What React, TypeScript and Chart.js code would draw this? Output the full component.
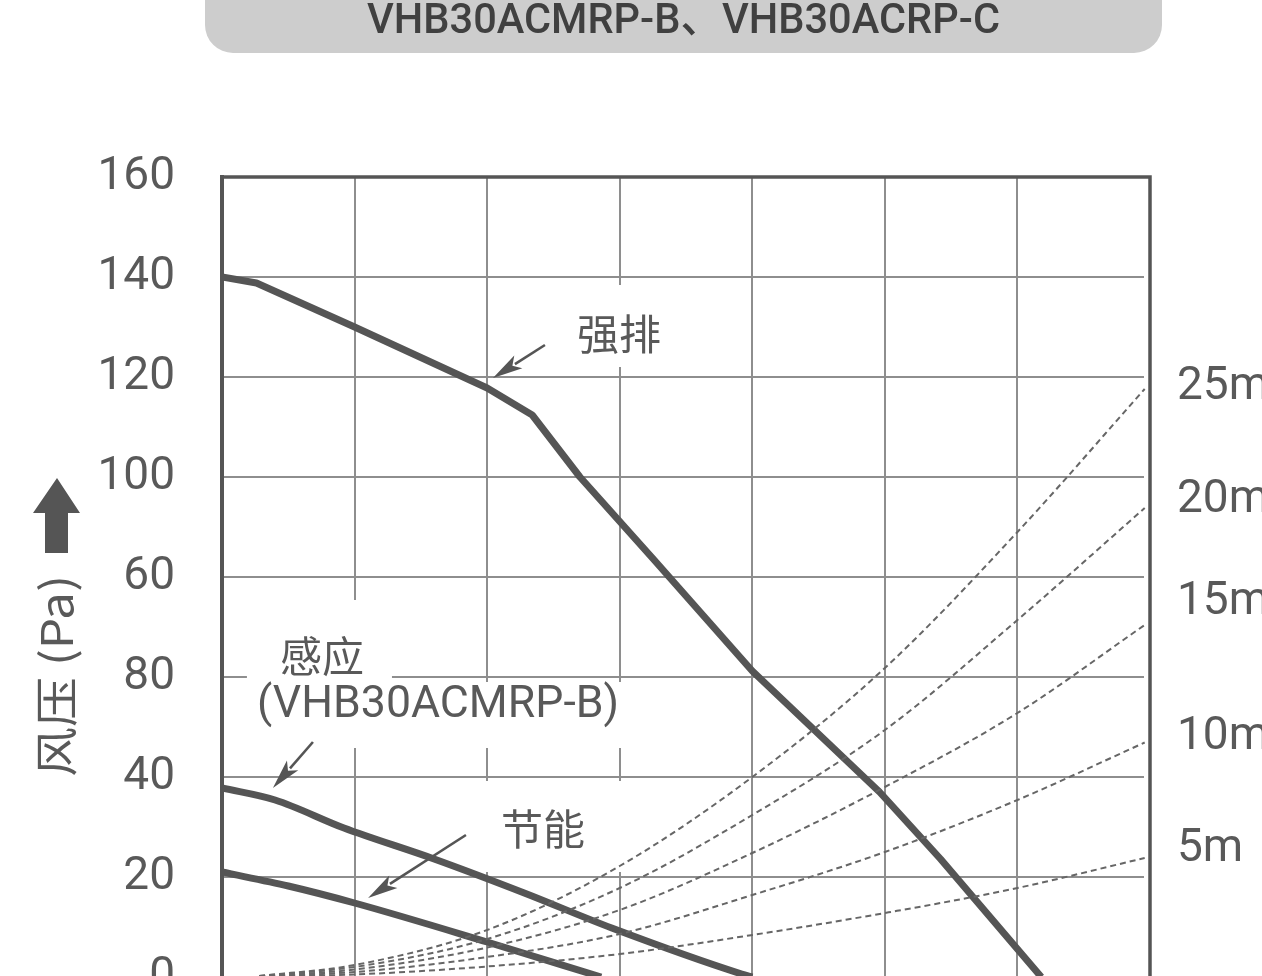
import React, { useEffect, useRef } from "react";
import { Chart, registerables } from "chart.js";

Chart.register(...registerables);

// ---------- data ----------
const chartTitle = "VHB30ACMRP-B、VHB30ACRP-C";
const yAxisTitle = "风压 (Pa)";
// tick labels as printed on the original, in value order 0..160
const yTickLabels = ["0", "20", "40", "80", "60", "100", "120", "140", "160"];

const strongLabel = "强排";
const strongX = [0, 13, 50, 100, 117, 135, 163, 200, 248, 271, 309];
const strongY = [140, 138.8, 130, 117.8, 112.4, 100, 83.4, 61.2, 37, 23.6, 0];

const sensorLabel = "感应";
const sensorModel = "(VHB30ACMRP-B)";
const sensorX = [0, 20, 46, 80, 114, 147, 196, 200];
const sensorY = [37.8, 35.4, 29.8, 23.6, 16.8, 9.8, 0.6, 0];

const ecoLabel = "节能";
const ecoX = [0, 25, 50, 100, 143];
const ecoY = [21, 18.2, 14.8, 7, 0];

const ductX = [14, 50, 100, 150, 200, 250, 300, 348];
const duct25 = [0.2, 2.4, 9.4, 22.2, 40, 61.8, 89, 117.6];
const duct20 = [0.2, 2.0, 7.6, 17.8, 32.4, 49.4, 71.4, 93.8];
const duct15 = [0.1, 1.5, 5.9, 13.4, 24.8, 38, 52.8, 70.4];
const duct10 = [0.1, 1.0, 4.0, 8.6, 16.4, 25, 35.4, 46.9];
const duct5 = [0.05, 0.5, 2.1, 4.6, 8.4, 12.8, 17.8, 23.8];
const ductLabels = ["25m", "20m", "15m", "10m", "5m"];

// ---------- styling ----------
const INK = "#555555";
const TEXT = "#595959";
const GRID = "#8e8e8e";
const LATIN = 'Roboto, "Noto Sans CJK SC", sans-serif';
const CJK = '"Noto Sans CJK SC", Roboto, sans-serif';

const CANVAS_H = 1057;

const pts = (xs: number[], ys: number[]) => xs.map((x, i) => ({ x, y: ys[i] }));

function fitText(ctx: CanvasRenderingContext2D, text: string, x: number, y: number, targetW: number) {
  const w = ctx.measureText(text).width;
  const s = w > 0 ? targetW / w : 1;
  ctx.save();
  ctx.translate(x, y);
  ctx.scale(s, 1);
  ctx.fillText(text, 0, 0);
  ctx.restore();
}

function arrow(ctx: CanvasRenderingContext2D, x1: number, y1: number, x2: number, y2: number) {
  const ang = Math.atan2(y2 - y1, x2 - x1);
  const headLen = 30;
  const headW = 7.5;
  const bx = x2 - Math.cos(ang) * headLen;
  const by = y2 - Math.sin(ang) * headLen;
  ctx.strokeStyle = INK;
  ctx.lineWidth = 2.6;
  ctx.beginPath();
  ctx.moveTo(x1, y1);
  ctx.lineTo(bx + Math.cos(ang) * 4, by + Math.sin(ang) * 4);
  ctx.stroke();
  ctx.fillStyle = INK;
  ctx.beginPath();
  ctx.moveTo(x2, y2);
  ctx.lineTo(bx - Math.sin(ang) * headW, by + Math.cos(ang) * headW);
  ctx.lineTo(bx + Math.cos(ang) * 7, by + Math.sin(ang) * 7);
  ctx.lineTo(bx + Math.sin(ang) * headW, by - Math.cos(ang) * headW);
  ctx.closePath();
  ctx.fill();
}

const overlay = {
  id: "overlay",
  beforeDatasetsDraw(chart: any) {
    const { ctx, chartArea: ca, scales } = chart;
    const X = (v: number) => scales.x.getPixelForValue(v);
    const Y = (v: number) => scales.y.getPixelForValue(v);
    ctx.save();
    // white label backgrounds that interrupt the grid
    ctx.fillStyle = "#ffffff";
    const boxes: number[][] = [
      [123.7, 138.4, 180.3, 122],
      [9.4, 75.4, 64.1, 58.4],
      [8.7, 59, 155.8, 45.8],
      [95.4, 39.2, 157.7, 21],
    ];
    boxes.forEach(([x0, y0, x1, y1]) => {
      ctx.fillRect(X(x0), Y(y0), X(x1) - X(x0), Y(y1) - Y(y0));
    });
    // horizontal grid stops just short of the right frame
    ctx.fillRect(ca.right - 6, ca.top + 3, 5, ca.bottom - ca.top);
    // frame top & right
    ctx.strokeStyle = INK;
    ctx.lineWidth = 3.5;
    ctx.beginPath();
    ctx.moveTo(ca.left, ca.top);
    ctx.lineTo(ca.right, ca.top);
    ctx.lineTo(ca.right, ca.bottom + 10);
    ctx.stroke();

    // curve labels
    ctx.fillStyle = TEXT;
    ctx.textAlign = "center";
    ctx.textBaseline = "middle";
    ctx.font = `42px ${CJK}`;
    ctx.fillText(strongLabel, X(149.7), Y(128.6));
    ctx.fillText(sensorLabel, X(37.7), Y(64.2));
    ctx.fillText(ecoLabel, X(121.1), Y(29.6));
    ctx.font = `44px ${LATIN}`;
    fitText(ctx, sensorModel, X(81.5), Y(54.2), 362);

    // arrows
    arrow(ctx, X(121.8), Y(126.4), X(102.2), Y(119.8));
    arrow(ctx, X(34.3), Y(47), X(19.2), Y(37.8));
    arrow(ctx, X(92), Y(28.4), X(55.1), Y(15.8));
    ctx.restore();
  },
  afterDraw(chart: any) {
    const { ctx, chartArea: ca, scales } = chart;
    const Y = (v: number) => scales.y.getPixelForValue(v);
    ctx.save();
    // title banner
    ctx.fillStyle = "#cdcdcd";
    ctx.beginPath();
    (ctx as any).roundRect(205, -40, 957, 93, 28);
    ctx.fill();
    ctx.fillStyle = "#404040";
    ctx.textAlign = "center";
    ctx.textBaseline = "middle";
    ctx.font = `500 43px ${LATIN}`;
    fitText(ctx, chartTitle, 683.5, 22, 633);

    // duct length labels on the right
    ctx.fillStyle = TEXT;
    ctx.textAlign = "left";
    ctx.font = `46px ${LATIN}`;
    const labelPos = [118, 95.4, 75, 48, 25.6];
    ductLabels.forEach((t, i) => ctx.fillText(t, ca.right + 27, Y(labelPos[i])));

    // y-axis title with up arrow
    ctx.save();
    ctx.translate(56, 676);
    ctx.rotate(-Math.PI / 2);
    ctx.textAlign = "center";
    ctx.font = `44px ${CJK}`;
    fitText(ctx, yAxisTitle, 0, 0, 202);
    ctx.restore();
    ctx.fillStyle = INK;
    ctx.beginPath();
    ctx.moveTo(57, 478);
    ctx.lineTo(80, 513);
    ctx.lineTo(68, 513);
    ctx.lineTo(68, 553);
    ctx.lineTo(45, 553);
    ctx.lineTo(45, 513);
    ctx.lineTo(33, 513);
    ctx.closePath();
    ctx.fill();
    ctx.restore();
  },
};

export default function App() {
  const ref = useRef<HTMLCanvasElement>(null);
  useEffect(() => {
    const thick = (data: any[]) => ({
      data,
      borderColor: INK,
      borderWidth: 7,
      pointRadius: 0,
      tension: 0,
      fill: false,
      borderJoinStyle: "round" as const,
    });
    const dashed = (data: any[]) => ({
      data,
      borderColor: "#666666",
      borderWidth: 2,
      borderDash: [6, 4],
      pointRadius: 0,
      cubicInterpolationMode: "monotone" as const,
      fill: false,
    });
    const chart = new Chart(ref.current!, {
      type: "line",
      data: {
        datasets: [
          dashed(pts(ductX, duct25)),
          dashed(pts(ductX, duct20)),
          dashed(pts(ductX, duct15)),
          dashed(pts(ductX, duct10)),
          dashed(pts(ductX, duct5)),
          thick(pts(strongX, strongY)),
          { ...thick(pts(sensorX, sensorY)), cubicInterpolationMode: "monotone" },
          { ...thick(pts(ecoX, ecoY)), cubicInterpolationMode: "monotone" },
        ],
      },
      options: {
        animation: false,
        responsive: false,
        devicePixelRatio: 1,
        layout: { padding: { top: 177, right: 112, left: 0, bottom: 0 } },
        plugins: { legend: { display: false }, tooltip: { enabled: false }, title: { display: false } },
        scales: {
          x: {
            type: "linear",
            min: 0,
            max: 350,
            ticks: { display: false, stepSize: 50 },
            grid: { color: GRID, lineWidth: 2, drawTicks: false },
            border: { display: false },
            afterFit: (s: any) => {
              s.height = CANVAS_H - 977;
            },
          },
          y: {
            min: 0,
            max: 160,
            ticks: {
              stepSize: 20,
              padding: 47,
              color: TEXT,
              font: { family: LATIN, size: 46 },
              callback: (v: any) => yTickLabels[Math.round(Number(v) / 20)],
            },
            grid: { color: GRID, lineWidth: 2, drawTicks: false },
            border: { display: true, color: INK, width: 4 },
            afterFit: (s: any) => {
              s.width = 222;
            },
          },
        },
      },
      plugins: [overlay],
    } as any);
    return () => chart.destroy();
  }, []);
  return (
    <div
      style={{
        position: "fixed",
        left: 0,
        top: 0,
        width: 1262,
        height: 976,
        overflow: "hidden",
        background: "#ffffff",
      }}
    >
      <canvas ref={ref} width={1262} height={CANVAS_H} style={{ display: "block", width: 1262, height: CANVAS_H }} />
    </div>
  );
}
